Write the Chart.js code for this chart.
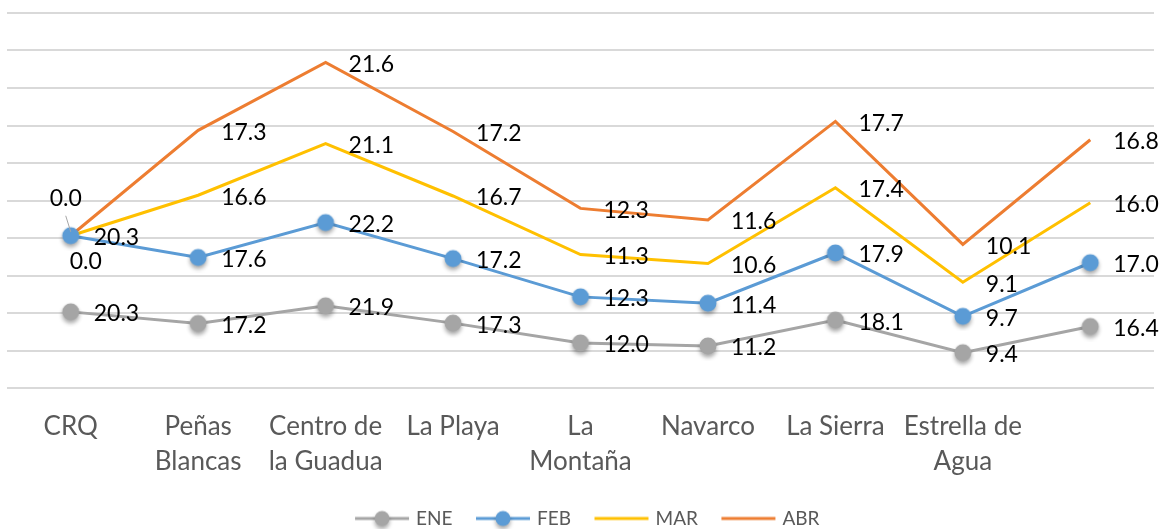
<!DOCTYPE html>
<html>
<head>
<meta charset="utf-8">
<script src="https://cdn.jsdelivr.net/npm/chart.js@4.4.0/dist/chart.umd.min.js"></script>
<style>
  html, body { margin: 0; padding: 0; background: #fff; }
  #wrap { width: 1164px; height: 529px; position: relative; }
</style>
</head>
<body>
<div id="wrap"><canvas id="chart"></canvas></div>
<script>
// Stations and monthly values (each series stacked on the one before)
const categories = ['CRQ', ['Peñas', 'Blancas'], ['Centro de', 'la Guadua'], 'La Playa', ['La', 'Montaña'], 'Navarco', 'La Sierra', ['Estrella de', 'Agua'], ''];
const seriesNames = ['ENE', 'FEB', 'MAR', 'ABR'];
const ene = [20.3, 17.2, 21.9, 17.3, 12.0, 11.2, 18.1, 9.4, 16.4];
const feb = [20.3, 17.6, 22.2, 17.2, 12.3, 11.4, 17.9, 9.7, 17.0];
const mar = [0.0, 16.6, 21.1, 16.7, 11.3, 10.6, 17.4, 9.1, 16.0];
const abr = [0.0, 17.3, 21.6, 17.2, 12.3, 11.6, 17.7, 10.1, 16.8];
const yMin = 0;
const yMax = 100;
const yStep = 10;

const colors = ['#A5A5A5', '#5B9BD5', '#FFC000', '#ED7D31'];
const hasMarker = [true, true, false, false];
const FONT = 'Lato, "Open Sans", sans-serif';

// small canvases used as marker images (point + legend)
function makeMarker(color, o) {
    const c = document.createElement('canvas');
    c.width = o.w;
    c.height = o.h;
    const g = c.getContext('2d');
    const cy = o.h / 2;
    if (o.line) {
        g.strokeStyle = color;
        g.lineWidth = 3;
        g.beginPath();
        g.moveTo(o.line[0], cy);
        g.lineTo(o.line[1], cy);
        g.stroke();
    }
    if (o.r) {
        g.save();
        g.shadowColor = 'rgba(0,0,0,0.35)';
        g.shadowBlur = 4;
        g.shadowOffsetY = 3;
        g.fillStyle = color;
        g.beginPath();
        g.arc(o.cx, cy, o.r, 0, Math.PI * 2);
        g.fill();
        g.restore();
    }
    return c;
}

const pointImages = colors.map(c => makeMarker(c, { w: 30, h: 30, cx: 15, r: 8.5 }));
const legendImages = colors.map((c, i) => makeMarker(c, { w: 130, h: 24, cx: 73, r: hasMarker[i] ? 7.5 : 0, line: [46, 100] }));

// moved labels at CRQ (offset from the point, centred text)
const labelNudges = {
    '3-0': { dx: -5, dy: -37, leader: true },
    '2-0': { dx: 15, dy: 26 }
};

const valueLabels = {
    id: 'valueLabels',
    afterDatasetsDraw(chart) {
        const ctx = chart.ctx;
        ctx.save();
        ctx.font = '23px ' + FONT;
        ctx.fillStyle = '#000';
        ctx.textBaseline = 'middle';
        chart.data.datasets.forEach((ds, di) => {
            const meta = chart.getDatasetMeta(di);
            meta.data.forEach((pt, i) => {
                const txt = ds.data[i].toFixed(1);
                const n = labelNudges[di + '-' + i];
                if (n) {
                    ctx.textAlign = 'center';
                    ctx.fillText(txt, pt.x + n.dx, pt.y + n.dy);
                    if (n.leader) {
                        ctx.strokeStyle = '#A6A6A6';
                        ctx.lineWidth = 1;
                        ctx.beginPath();
                        ctx.moveTo(pt.x + n.dx, pt.y + n.dy + 17);
                        ctx.lineTo(pt.x, pt.y - 4);
                        ctx.stroke();
                    }
                } else {
                    ctx.textAlign = 'left';
                    ctx.fillText(txt, pt.x + 23, pt.y + 2);
                }
            });
        });
        ctx.restore();
    }
};

const seriesData = [ene, feb, mar, abr];

new Chart(document.getElementById('chart'), {
    type: 'line',
    data: {
        labels: categories,
        datasets: seriesData.map((d, i) => ({
            label: seriesNames[i],
            data: d,
            borderColor: colors[i],
            backgroundColor: colors[i],
            borderWidth: 3,
            tension: 0,
            fill: false,
            pointStyle: pointImages[i],
            pointRadius: hasMarker[i] ? 8.5 : 0,
            pointHoverRadius: hasMarker[i] ? 8.5 : 0
        }))
    },
    options: {
        responsive: true,
        maintainAspectRatio: false,
        animation: false,
        layout: {
            autoPadding: false,
            padding: { top: 13, left: 7, right: 10, bottom: -9 }
        },
        plugins: {
            tooltip: { enabled: false },
            legend: {
                position: 'bottom',
                labels: {
                    usePointStyle: true,
                    pointStyleWidth: 65,
                    padding: 10,
                    color: '#595959',
                    font: { family: FONT, size: 19 },
                    generateLabels: chart => chart.data.datasets.map((ds, i) => ({
                        text: ds.label,
                        pointStyle: legendImages[i],
                        fillStyle: ds.borderColor,
                        strokeStyle: ds.borderColor,
                        lineWidth: 0,
                        hidden: false,
                        datasetIndex: i,
                        fontColor: '#595959'
                    }))
                }
            }
        },
        scales: {
            x: {
                offset: true,
                grid: { display: false, drawTicks: false },
                border: { display: false },
                ticks: {
                    autoSkip: false,
                    maxRotation: 0,
                    padding: 21,
                    color: '#595959',
                    font: { family: FONT, size: 26, lineHeight: 35 / 26 }
                },
                afterFit: scale => {
                    scale.height = 111;
                    scale.paddingLeft = 0;
                    scale.paddingRight = 0;
                }
            },
            y: {
                stacked: true,
                min: yMin,
                max: yMax,
                grid: { color: '#D9D9D9', lineWidth: 2, drawTicks: false },
                border: { display: false },
                ticks: { display: false, stepSize: yStep },
                afterFit: scale => {
                    scale.width = 0;
                    scale.paddingTop = 0;
                    scale.paddingBottom = 0;
                }
            }
        }
    },
    plugins: [valueLabels]
});
</script>
</body>
</html>
